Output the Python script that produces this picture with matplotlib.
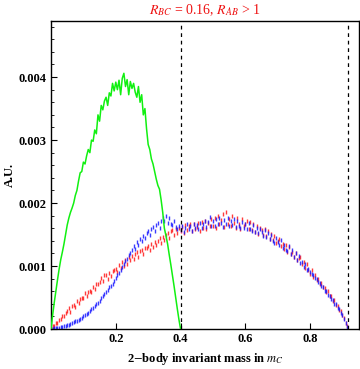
import numpy as np
import matplotlib
matplotlib.use("Agg")
import matplotlib.pyplot as plt
from matplotlib.ticker import MultipleLocator, FixedLocator

# ── Data (units of 1e-5 for heights) ─────────────────────────────────
step = 0.005

green_vals = [
    0, 22, 42, 60, 78, 95, 110, 122, 135, 150,
    165, 176, 185, 192, 200, 212, 220, 235, 248, 250,
    265, 262, 275, 285, 280, 300, 298, 316, 310, 340,
    330, 355, 348, 362, 368, 355, 375, 370, 390, 378,
    392, 380, 395, 372, 398, 406, 385, 396, 372, 393,
    382, 390, 376, 368, 385, 360, 372, 340, 350, 318,
    293, 285, 270, 262, 250, 238, 228, 222, 205, 185,
    160, 148, 135, 118, 102, 85, 68, 50, 32, 15,
    0,
]

red_vals = [
    0, 4, 5, 10, 9, 15, 16, 21, 20, 26,
    28, 33, 27, 37, 38, 35, 45, 41, 48, 49,
    50, 57, 52, 59, 61, 58, 67, 63, 71, 72,
    74, 81, 76, 85, 86, 80, 89, 84, 92, 94,
    95, 91, 101, 97, 106, 100, 110, 104, 114, 109,
    116, 111, 119, 122, 114, 124, 126, 119, 129, 128,
    131, 125, 135, 130, 138, 133, 140, 145, 136, 146,
    141, 150, 152, 145, 155, 157, 150, 159, 153, 160,
    156, 162, 152, 165, 157, 163, 167, 156, 166, 158,
    162, 168, 155, 170, 161, 172, 159, 169, 163, 174,
    164, 176, 160, 179, 166, 173, 182, 162, 185, 167,
    175, 164, 180, 169, 160, 177, 166, 159, 174, 163,
    167, 171, 159, 170, 157, 166, 154, 163, 151, 161,
    157, 149, 159, 147, 155, 143, 151, 141, 148, 137,
    140, 143, 132, 135, 127, 134, 123, 130, 119, 122,
    115, 121, 110, 112, 114, 103, 106, 97, 103, 93,
    88, 94, 83, 86, 78, 80, 72, 73, 66, 65,
    59, 60, 52, 53, 45, 46, 38, 37, 30, 29,
    23, 18, 10, 4,
]

blue_vals = [
    0, 0, 1, 1, 2, 2, 3, 3, 4, 5,
    6, 7, 8, 9, 11, 12, 13, 15, 16, 18,
    20, 22, 24, 26, 29, 31, 34, 36, 39, 42,
    45, 49, 52, 55, 59, 62, 66, 69, 72, 77,
    81, 86, 89, 94, 98, 103, 108, 111, 117, 121,
    125, 132, 127, 138, 133, 143, 139, 148, 144, 153,
    156, 150, 159, 162, 156, 165, 169, 161, 172, 176,
    171, 179, 169, 176, 167, 165, 172, 162, 159, 163,
    157, 164, 154, 161, 167, 158, 163, 155, 166, 160,
    165, 158, 169, 161, 167, 172, 162, 170, 178, 164,
    171, 163, 174, 166, 176, 169, 162, 173, 166, 177,
    164, 172, 165, 174, 162, 171, 164, 160, 170, 161,
    166, 158, 168, 159, 156, 165, 154, 161, 152, 159,
    154, 148, 157, 146, 152, 143, 149, 140, 137, 145,
    138, 133, 141, 129, 134, 126, 124, 131, 119, 125,
    115, 120, 110, 116, 105, 107, 99, 104, 94, 96,
    90, 87, 86, 81, 79, 74, 73, 68, 67, 60,
    60, 54, 53, 47, 46, 40, 39, 33, 31, 25,
    22, 16, 10, 3,
]

x_ticks = [0.2, 0.4, 0.6, 0.8]
y_ticks = [0.000, 0.001, 0.002, 0.003, 0.004]
edges = [0.4, 0.918]

green_x = np.arange(len(green_vals)) * step
red_x = np.arange(len(red_vals)) * step
blue_x = np.arange(len(blue_vals)) * step
green_y = np.array(green_vals) * 1e-5
red_y = np.array(red_vals) * 1e-5
blue_y = np.array(blue_vals) * 1e-5

# ── Style ────────────────────────────────────────────────────────────
plt.rcParams["font.family"] = ["Liberation Serif", "DejaVu Serif"]
plt.rcParams["mathtext.fontset"] = "stix"

fig = plt.figure(figsize=(3.6, 3.69), dpi=100)
ax = fig.add_axes([0.1417, 0.1084, 0.9972 - 0.1417, 0.943 - 0.1084])

ax.plot(green_x, green_y, color="#11f011", linewidth=1.1, zorder=3)
ax.plot(red_x, red_y, linestyle="none", marker="|", markersize=3,
        markeredgewidth=1.0, color="#ff1a1a", alpha=0.85, zorder=2)
ax.plot(blue_x, blue_y, linestyle="none", marker="|", markersize=3,
        markeredgewidth=1.0, color="#1a1aff", alpha=0.85, zorder=2)

for e in edges:
    ax.axvline(e, color="black", linestyle=(0, (3, 3)), linewidth=0.9, zorder=4)

ax.set_xlim(0, 0.951)
ax.set_ylim(0, 0.00489)

ax.xaxis.set_major_locator(FixedLocator(x_ticks))
ax.yaxis.set_major_locator(FixedLocator(y_ticks))
ax.yaxis.set_minor_locator(MultipleLocator(0.0002))
ax.set_xticklabels([f"{t:.1f}" for t in x_ticks], fontweight="bold", fontsize=9)
ax.set_yticklabels([f"{t:.3f}" for t in y_ticks], fontweight="bold", fontsize=9)
ax.tick_params(axis="both", which="major", direction="in", length=4, width=0.8,
               top=False, right=False, pad=3)
ax.tick_params(axis="y", which="minor", direction="in", length=2.2, width=0.6)
ax.tick_params(axis="x", which="minor", bottom=False)

for sp in ax.spines.values():
    sp.set_linewidth(1.0)

ax.set_xlabel(r"2$-$body invariant mass in $m_C$", fontweight="bold", fontsize=9,
              labelpad=4)
ax.set_ylabel("A.U.", fontweight="bold", fontsize=9, labelpad=2)
ax.set_title(r"$R_{BC}$ = 0.16, $R_{AB}$ > 1", color="#ee1111", fontsize=10, pad=5)

fig.savefig("out.png", dpi=100)
